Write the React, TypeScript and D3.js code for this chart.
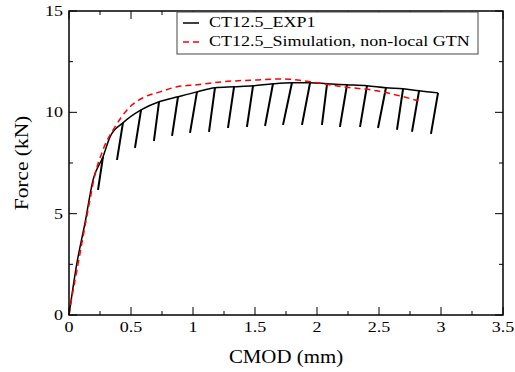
import React from "react";
import * as d3 from "d3";

// loading branch + envelope of the experiment (CMOD mm, force kN)
const expEnvelope: [number, number][] = [
  [0, 0], [0.064, 2.57], [0.129, 4.54], [0.194, 6.67], [0.274, 7.8], [0.331, 8.79],
  [0.435, 9.48], [0.581, 10.12], [0.726, 10.52], [0.879, 10.77], [1.032, 11.01],
  [1.177, 11.21], [1.331, 11.26], [1.484, 11.31], [1.645, 11.41], [1.798, 11.46],
  [1.944, 11.46], [2.081, 11.41], [2.242, 11.36], [2.403, 11.31], [2.556, 11.21],
  [2.694, 11.16], [2.823, 11.06], [2.976, 10.96],
];

// unloading cycles: peak where unloading starts, valley where it reloads
const cyclePeaks: [number, number][] = [
  [0.274, 7.8], [0.435, 9.48], [0.581, 10.12], [0.726, 10.52], [0.879, 10.77],
  [1.032, 11.01], [1.177, 11.21], [1.331, 11.26], [1.484, 11.31], [1.645, 11.41],
  [1.798, 11.46], [1.944, 11.46], [2.081, 11.41], [2.242, 11.36], [2.403, 11.31],
  [2.556, 11.21], [2.694, 11.16], [2.823, 11.06], [2.976, 10.96],
];
const cycleValleys: [number, number][] = [
  [0.234, 6.17], [0.387, 7.65], [0.532, 8.25], [0.685, 8.59], [0.831, 8.84],
  [0.976, 8.99], [1.129, 9.04], [1.282, 9.23], [1.435, 9.28], [1.581, 9.33],
  [1.726, 9.38], [1.879, 9.38], [2.04, 9.38], [2.185, 9.28], [2.347, 9.28],
  [2.492, 9.23], [2.645, 9.14], [2.766, 9.04], [2.919, 8.94],
];

// simulation, non-local GTN
const simCurve: [number, number][] = [
  [0, 0], [0.024, 0.89], [0.064, 2.22], [0.113, 3.85], [0.169, 5.68], [0.2, 6.67],
  [0.274, 8.15], [0.371, 9.28], [0.468, 10.12], [0.597, 10.72], [0.734, 11.01],
  [0.871, 11.26], [1.032, 11.36], [1.242, 11.51], [1.516, 11.6], [1.726, 11.65],
  [1.944, 11.51], [2.21, 11.26], [2.484, 11.06], [2.669, 10.81], [2.815, 10.57],
];

const xTicks = [0, 0.5, 1, 1.5, 2, 2.5, 3, 3.5];
const xMinor = [0.25, 0.75, 1.25, 1.75, 2.25, 2.75, 3.25];
const yTicks = [0, 5, 10, 15];
const yMinor = [2.5, 7.5, 12.5];
const legendLabels = ["CT12.5_EXP1", "CT12.5_Simulation, non-local GTN"];

const W = 515;
const H = 372;
const left = 69;
const right = 503;
const top = 11;
const bottom = 315;
const font = "'Liberation Serif', 'Times New Roman', serif";

export default function App() {
  const x = d3.scaleLinear().domain([0, 3.5]).range([left, right]);
  const y = d3.scaleLinear().domain([0, 15]).range([bottom, top]);

  const smooth = d3
    .line<[number, number]>()
    .x((d) => x(d[0]))
    .y((d) => y(d[1]))
    .curve(d3.curveMonotoneX);
  const straight = d3
    .line<[number, number]>()
    .x((d) => x(d[0]))
    .y((d) => y(d[1]));

  return (
    <svg
      width={W}
      height={H}
      style={{ position: "absolute", left: 0, top: 0, background: "#fff" }}
      fontFamily={font}
    >
      <defs>
        <clipPath id="plot">
          <rect x={left} y={top} width={right - left} height={bottom - top} />
        </clipPath>
      </defs>

      <g clipPath="url(#plot)" fill="none">
        <path d={smooth(expEnvelope) ?? ""} stroke="#000" strokeWidth={1.5} />
        {cyclePeaks.map((p, i) => (
          <path
            key={i}
            d={straight([p, cycleValleys[i], p]) ?? ""}
            stroke="#000"
            strokeWidth={2}
          />
        ))}
        <path
          d={smooth(simCurve) ?? ""}
          stroke="#f00"
          strokeWidth={1.5}
          strokeDasharray="6,4"
        />
      </g>

      {/* frame */}
      <rect
        x={left}
        y={top}
        width={right - left}
        height={bottom - top}
        fill="none"
        stroke="#000"
        strokeWidth={1.5}
      />

      {/* ticks, inward on all sides */}
      <g stroke="#000" strokeWidth={1}>
        {xTicks.map((t) => (
          <g key={"x" + t}>
            <line x1={x(t)} x2={x(t)} y1={bottom} y2={bottom - 8} />
            <line x1={x(t)} x2={x(t)} y1={top} y2={top + 8} />
          </g>
        ))}
        {xMinor.map((t) => (
          <g key={"xm" + t}>
            <line x1={x(t)} x2={x(t)} y1={bottom} y2={bottom - 4} />
            <line x1={x(t)} x2={x(t)} y1={top} y2={top + 4} />
          </g>
        ))}
        {yTicks.map((t) => (
          <g key={"y" + t}>
            <line x1={left} x2={left + 8} y1={y(t)} y2={y(t)} />
            <line x1={right} x2={right - 8} y1={y(t)} y2={y(t)} />
          </g>
        ))}
        {yMinor.map((t) => (
          <g key={"ym" + t}>
            <line x1={left} x2={left + 4} y1={y(t)} y2={y(t)} />
            <line x1={right} x2={right - 4} y1={y(t)} y2={y(t)} />
          </g>
        ))}
      </g>

      {/* tick labels */}
      <g fontSize={15}>
        {xTicks.map((t) => (
          <text
            key={"xl" + t}
            textAnchor="middle"
            transform={`translate(${x(t)},${bottom + 17}) scale(1.2,1)`}
          >
            {String(t)}
          </text>
        ))}
        {yTicks.map((t) => (
          <text
            key={"yl" + t}
            textAnchor="end"
            transform={`translate(63,${y(t) + 5}) scale(1.2,1)`}
          >
            {String(t)}
          </text>
        ))}
      </g>

      {/* axis titles */}
      <text
        fontSize={18}
        textAnchor="middle"
        transform={`translate(${(left + right) / 2 + 0},363) scale(1.16,1)`}
      >
        CMOD (mm)
      </text>
      <text
        fontSize={18}
        textAnchor="middle"
        transform={`translate(27.5,${(top + bottom) / 2}) rotate(-90) scale(1.19,1)`}
      >
        Force (kN)
      </text>

      {/* legend */}
      <g>
        <rect x={177} y={12} width={301} height={42} fill="#fff" stroke="#444" strokeWidth={1} />
        <line x1={183} x2={199} y1={23} y2={23} stroke="#000" strokeWidth={1.5} />
        <line
          x1={183}
          x2={200}
          y1={42}
          y2={42}
          stroke="#f00"
          strokeWidth={1.5}
          strokeDasharray="6,4"
        />
        {legendLabels.map((l, i) => (
          <text
            key={l}
            fontSize={15}
            transform={`translate(209,${27 + i * 19}) scale(1.2,1)`}
          >
            {l}
          </text>
        ))}
      </g>
    </svg>
  );
}
